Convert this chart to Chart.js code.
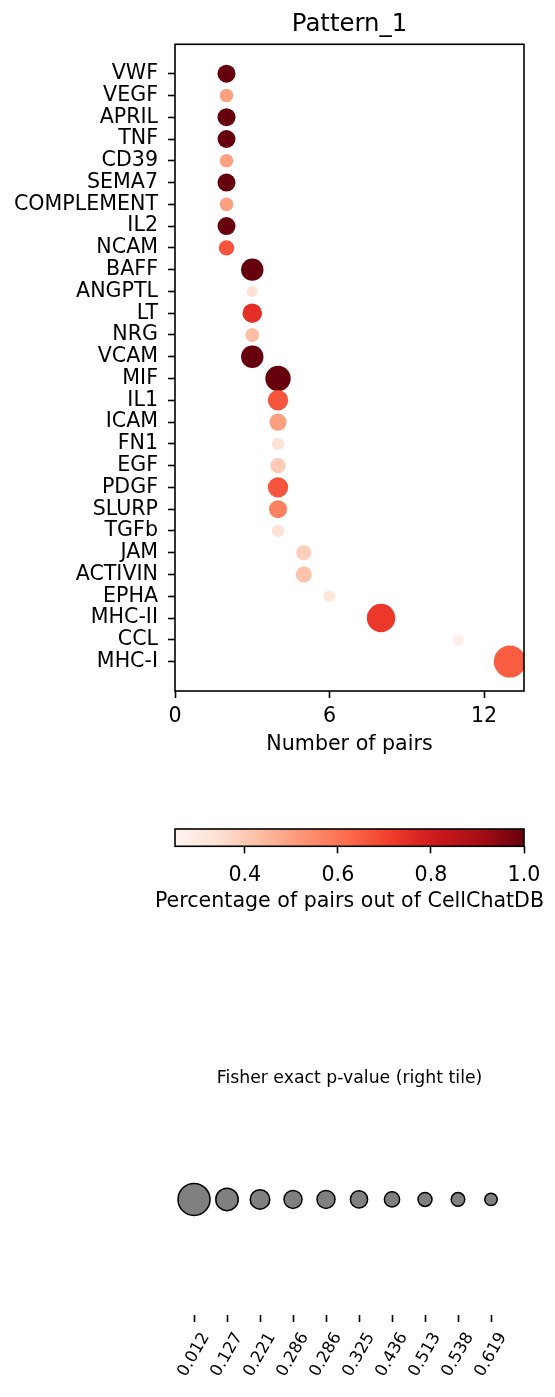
<!DOCTYPE html>
<html>
<head>
<meta charset="utf-8">
<script src="https://cdn.jsdelivr.net/npm/chart.js@4.4.0/dist/chart.umd.min.js"></script>
<style>
  html, body { margin: 0; padding: 0; background: #fff; }
  body { width: 555px; height: 1397px; position: relative; overflow: hidden; }
  canvas { position: absolute; }
</style>
</head>
<body>
<canvas id="dotChart" width="555" height="770" style="left:0;top:0"></canvas>
<canvas id="colorBar" width="409" height="130" style="left:145px;top:790px"></canvas>
<canvas id="sizeLegend" width="555" height="347" style="left:0;top:1050px"></canvas>
<script>
// signalling pathways, top to bottom
const pathways = ['VWF', 'VEGF', 'APRIL', 'TNF', 'CD39', 'SEMA7', 'COMPLEMENT', 'IL2', 'NCAM',
  'BAFF', 'ANGPTL', 'LT', 'NRG', 'VCAM', 'MIF', 'IL1', 'ICAM', 'FN1', 'EGF', 'PDGF', 'SLURP',
  'TGFb', 'JAM', 'ACTIVIN', 'EPHA', 'MHC-II', 'CCL', 'MHC-I'];
const nPairs = [2, 2, 2, 2, 2, 2, 2, 2, 2, 3, 3, 3, 3, 3, 4, 4, 4, 4, 4, 4, 4, 4, 5, 5, 6, 8, 11, 13];
const pctPairs = [1.0, 0.5, 1.0, 1.0, 0.5, 1.0, 0.5, 1.0, 0.667, 1.0, 0.333, 0.75, 0.429, 1.0,
  1.0, 0.667, 0.5, 0.333, 0.4, 0.667, 0.571, 0.333, 0.385, 0.417, 0.316, 0.727, 0.275, 0.65];
const pValues = [0.286, 0.538, 0.286, 0.286, 0.538, 0.286, 0.538, 0.286, 0.42, 0.127, 0.72, 0.221,
  0.513, 0.127, 0.067, 0.19, 0.325, 0.619, 0.436, 0.19, 0.286, 0.619, 0.436, 0.39, 0.68, 0.032, 0.72, 0.012];
const legendP = [0.012, 0.127, 0.221, 0.286, 0.286, 0.325, 0.436, 0.513, 0.538, 0.619];
const xTicks = [0, 6, 12];
const barTicks = [0.4, 0.6, 0.8, 1.0];
const pctRange = [0.25, 1.0];

// matplotlib "Reds"
const redsStops = ['#fff5f0', '#fee0d2', '#fcbba1', '#fc9272', '#fb6a4a', '#ef3b2c', '#cb181d', '#a50f15', '#67000d'];

function hexToRgb(h) {
  return [parseInt(h.slice(1, 3), 16), parseInt(h.slice(3, 5), 16), parseInt(h.slice(5, 7), 16)];
}

function redsColor(v) {
  let t = (v - pctRange[0]) / (pctRange[1] - pctRange[0]);
  t = Math.max(0, Math.min(1, t)) * (redsStops.length - 1);
  const k = Math.min(Math.floor(t), redsStops.length - 2);
  const f = t - k;
  const a = hexToRgb(redsStops[k]), b = hexToRgb(redsStops[k + 1]);
  const c = a.map((x, j) => Math.round(x + (b[j] - x) * f));
  return 'rgb(' + c.join(',') + ')';
}

// marker size from the p-value
function pToRadius(p) {
  return Math.sqrt(12 + 127 * -Math.log10(p));
}

Chart.defaults.font.family = '"DejaVu Sans", sans-serif';
Chart.defaults.color = '#000';
Chart.defaults.animation = false;

const FS = 20.6;

const framePlugin = {
  id: 'frame',
  afterDatasetsDraw(chart, args, opts) {
    const { ctx, chartArea: a } = chart;
    ctx.save();
    ctx.strokeStyle = '#000';
    ctx.lineWidth = opts.width || 1.6;
    ctx.strokeRect(a.left, a.top, a.right - a.left, a.bottom - a.top);
    ctx.restore();
  }
};

const slantLabels = {
  id: 'slantLabels',
  afterDraw(chart) {
    const scale = chart.scales.x;
    const ctx = chart.ctx;
    const size = 16.6, ang = Math.PI / 3;
    ctx.save();
    ctx.font = size + 'px "DejaVu Sans"';
    ctx.fillStyle = '#000';
    ctx.textAlign = 'center';
    ctx.textBaseline = 'middle';
    scale.ticks.forEach((t, i) => {
      const text = legendP[i].toFixed(3);
      const w = ctx.measureText(text).width;
      const boxH = w * Math.sin(ang) + size * Math.cos(ang);
      const cx = scale.getPixelForValue(t.value);
      const cy = scale.bottom + 8 + boxH / 2;
      ctx.save();
      ctx.translate(cx, cy);
      ctx.rotate(-ang);
      ctx.fillText(text, 0, 0);
      ctx.restore();
    });
    ctx.restore();
  }
};

const tickGrid = { drawOnChartArea: false, tickLength: 7, tickWidth: 1.6, tickColor: '#000' };
const blankSide = w => ({
  display: true,
  grid: { display: false },
  border: { display: false },
  ticks: { display: false },
  afterFit: s => { s.width = w; }
});

// dot plot
new Chart(document.getElementById('dotChart'), {
  type: 'bubble',
  data: {
    datasets: [{
      data: pathways.map((name, i) => ({ x: nPairs[i], y: i, r: pToRadius(pValues[i]) })),
      backgroundColor: pctPairs.map(redsColor),
      borderWidth: 0,
      clip: 0
    }]
  },
  options: {
    responsive: false,
    layout: { padding: { left: 0, right: 31, top: 0, bottom: 13 } },
    plugins: {
      legend: { display: false },
      tooltip: { enabled: false },
      title: {
        display: true, text: 'Pattern_1', fullSize: false,
        font: { size: 24.4, weight: 'normal' }, padding: { top: 10, bottom: 5 }
      },
      frame: { width: 1.6 }
    },
    scales: {
      x: {
        type: 'linear', min: 0, max: 13.55,
        afterBuildTicks: s => { s.ticks = xTicks.map(v => ({ value: v })); },
        grid: tickGrid,
        border: { display: false },
        ticks: { font: { size: FS }, padding: 6, maxRotation: 0, autoSkip: false },
        title: { display: true, text: 'Number of pairs', font: { size: FS }, padding: 0 },
        afterFit: s => { s.height = 66; }
      },
      y: {
        type: 'linear', reverse: true, min: -1.35, max: 28.35,
        afterBuildTicks: s => { s.ticks = pathways.map((n, i) => ({ value: i })); },
        grid: tickGrid,
        border: { display: false },
        ticks: { font: { size: FS }, padding: 10, autoSkip: false, callback: v => pathways[v] },
        afterFit: s => { s.width = 175; }
      }
    }
  },
  plugins: [framePlugin]
});

// colour bar
new Chart(document.getElementById('colorBar'), {
  type: 'bar',
  data: {
    labels: [''],
    datasets: [{
      data: [pctRange],
      backgroundColor: function(c) {
        const area = c.chart.chartArea;
        if (!area) return 'rgba(0,0,0,0)';
        const g = c.chart.ctx.createLinearGradient(area.left, 0, area.right, 0);
        redsStops.forEach((col, k) => g.addColorStop(k / (redsStops.length - 1), col));
        return g;
      },
      borderWidth: 0,
      barPercentage: 1,
      categoryPercentage: 1
    }]
  },
  options: {
    indexAxis: 'y',
    responsive: false,
    layout: { padding: { left: 0, right: 0, top: 39, bottom: 6 } },
    plugins: {
      legend: { display: false },
      tooltip: { enabled: false },
      title: {
        display: true, position: 'bottom', text: 'Percentage of pairs out of CellChatDB',
        font: { size: FS, weight: 'normal' }, padding: { top: 5, bottom: 0 }
      },
      frame: { width: 1.6 }
    },
    scales: {
      x: {
        type: 'linear', min: pctRange[0], max: pctRange[1],
        afterBuildTicks: s => { s.ticks = barTicks.map(v => ({ value: v })); },
        grid: tickGrid,
        border: { display: false },
        ticks: { font: { size: FS }, padding: 10, maxRotation: 0, autoSkip: false, callback: v => v.toFixed(1) },
        afterFit: s => { s.height = 38; }
      },
      y: Object.assign({ position: 'left' }, blankSide(30)),
      yRight: Object.assign({ position: 'right', axis: 'y', type: 'category' }, blankSide(30))
    }
  },
  plugins: [framePlugin]
});

// size legend
new Chart(document.getElementById('sizeLegend'), {
  type: 'bubble',
  data: {
    datasets: [{
      data: legendP.map((p, i) => ({ x: i, y: 0, r: pToRadius(p) })),
      backgroundColor: '#808080',
      borderColor: '#000',
      borderWidth: 1.5,
      clip: false
    }]
  },
  options: {
    responsive: false,
    layout: { padding: { left: 175, right: 31, top: 0, bottom: 75 } },
    plugins: {
      legend: { display: false },
      tooltip: { enabled: false },
      title: {
        display: true, text: 'Fisher exact p-value (right tile)', fullSize: false,
        font: { size: 17.3, weight: 'normal' }, padding: { top: 18, bottom: 2 }
      }
    },
    scales: {
      x: {
        type: 'linear', min: -0.576, max: 10,
        afterBuildTicks: s => { s.ticks = legendP.map((p, i) => ({ value: i })); },
        grid: tickGrid,
        border: { display: false },
        ticks: { display: false },
        afterFit: s => { s.height = 7; }
      },
      y: { display: false, min: -1, max: 0.94 }
    }
  },
  plugins: [slantLabels]
});
</script>
</body>
</html>
